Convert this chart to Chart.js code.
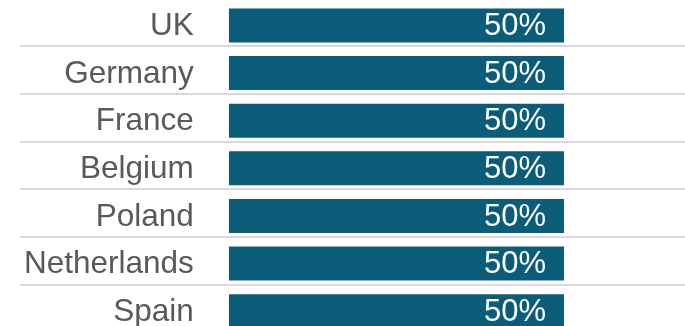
<!DOCTYPE html>
<html>
<head>
<meta charset="utf-8">
<script src="https://cdn.jsdelivr.net/npm/chart.js@4/dist/chart.umd.min.js"></script>
<style>
  html, body { margin: 0; padding: 0; overflow: hidden; background: #ffffff; }
  #wrap { position: absolute; left: 0; top: 0; width: 685px; height: 335px; }
</style>
</head>
<body>
<div id="wrap"><canvas id="c" width="685" height="335"></canvas></div>
<script>
// ---- data ----
const categories = ["UK", "Germany", "France", "Belgium", "Poland", "Netherlands", "Spain"];
const shareValues = [50, 50, 50, 50, 50, 50, 50];
const valueSuffix = "%";
// separator rules sit just above the midpoint between neighbouring rows
const separatorPositions = [0.44, 1.44, 2.44, 3.44, 4.44, 5.44];

const FONT = '"Liberation Sans", Arial, Helvetica, sans-serif';
Chart.defaults.font.family = FONT;

function zeroFit(axis) {
  axis.width = 0;
  axis.paddingTop = 0;
  axis.paddingBottom = 0;
  axis.paddingLeft = 0;
  axis.paddingRight = 0;
}

const barLabelPlugin = {
  id: 'barLabels',
  afterDatasetsDraw(chart) {
    const ctx = chart.ctx;
    const meta = chart.getDatasetMeta(0);
    ctx.save();
    ctx.font = '31px ' + FONT;
    ctx.fillStyle = '#ffffff';
    ctx.textAlign = 'right';
    ctx.textBaseline = 'middle';
    meta.data.forEach((el, i) => {
      const v = chart.data.datasets[0].data[i];
      ctx.fillText(v + valueSuffix, el.x - 18, el.y + 1);
    });
    ctx.restore();
  }
};

new Chart(document.getElementById('c'), {
  type: 'bar',
  data: {
    labels: categories,
    datasets: [{
      data: shareValues,
      backgroundColor: '#0b5c78',
      borderWidth: 0,
      categoryPercentage: 1,
      barPercentage: 0.714
    }]
  },
  options: {
    indexAxis: 'y',
    responsive: false,
    animation: false,
    events: [],
    layout: { padding: { left: 20, top: 1.7, right: 0, bottom: 0 } },
    plugins: { legend: { display: false }, tooltip: { enabled: false } },
    scales: {
      x: {
        display: false,
        min: -31.19,
        max: 68.06
      },
      y: {
        position: 'left',
        afterFit: zeroFit,
        grid: { display: false, drawTicks: false },
        border: { display: false },
        ticks: {
          mirror: true,
          crossAlign: 'far',
          padding: 4,
          labelOffset: 1,
          color: '#595959',
          font: { size: 31.5, family: FONT }
        }
      },
      y2: {
        type: 'linear',
        position: 'left',
        reverse: true,
        offset: false,
        min: -0.5,
        max: 6.5,
        afterFit: zeroFit,
        afterBuildTicks(axis) {
          axis.ticks = separatorPositions.map(v => ({ value: v }));
        },
        grid: { offset: false, color: '#d9d9d9', lineWidth: 2, drawTicks: false },
        border: { display: false },
        ticks: { display: false }
      }
    }
  },
  plugins: [barLabelPlugin]
});
</script>
</body>
</html>
